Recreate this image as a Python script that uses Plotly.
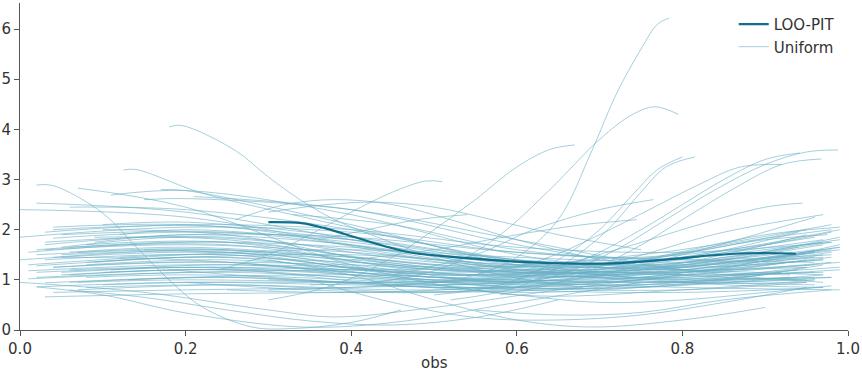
import plotly.graph_objects as go

# ---------------- data ----------------
loo_pit_x = [0.300, 0.340, 0.368, 0.405, 0.445, 0.477, 0.500, 0.535, 0.595,
             0.656, 0.716, 0.777, 0.837, 0.878, 0.918, 0.937]
loo_pit_y = [2.15, 2.13, 2.03, 1.85, 1.65, 1.53, 1.49, 1.44, 1.37,
             1.33, 1.33, 1.40, 1.49, 1.53, 1.53, 1.52]

# full-span uniform KDE lines: knots at start, 0.2, 0.4, 0.6, 0.8, end
band_start = [0.00, 0.00, 0.01, 0.00, 0.01, 0.02, 0.03, 0.02, 0.03, 0.01,
              0.04, 0.02, 0.07, 0.05, 0.06, 0.03, 0.08, 0.04, 0.05, 0.02,
              0.06, 0.09, 0.01, 0.07, 0.03, 0.10, 0.04, 0.12, 0.05, 0.02,
              0.06, 0.08, 0.03, 0.10, 0.04]
band_end = [0.97, 0.98, 0.96, 0.99, 0.98, 0.97, 0.95, 0.99, 0.96, 0.97,
            0.99, 0.95, 0.96, 0.93, 0.97, 0.98, 0.96, 0.97, 0.99, 0.94,
            0.97, 0.98, 0.96, 0.99, 0.94, 0.97, 0.98, 0.96, 0.95, 0.99,
            0.93, 0.97, 0.96, 0.98, 0.95]
band_y = [
    [2.40, 2.25, 1.70, 1.20, 1.10, 1.15],
    [1.85, 2.05, 1.95, 1.55, 1.40, 1.50],
    [1.55, 1.75, 1.65, 1.35, 1.50, 1.85],
    [1.40, 1.55, 1.40, 1.10, 1.05, 1.20],
    [1.18, 1.30, 1.25, 1.05, 1.20, 1.55],
    [1.28, 1.45, 1.50, 1.30, 1.20, 1.10],
    [0.66, 0.72, 0.75, 0.80, 1.00, 1.25],
    [0.86, 0.95, 0.90, 0.85, 1.10, 1.70],
    [0.94, 1.05, 1.10, 1.00, 0.95, 0.90],
    [1.02, 1.15, 1.20, 1.25, 1.45, 1.80],
    [1.83, 1.95, 1.80, 1.40, 1.30, 1.60],
    [2.53, 2.35, 1.80, 1.20, 0.95, 0.95],
    [2.83, 2.45, 1.30, 0.70, 0.80, 1.00],
    [1.65, 1.85, 1.60, 1.15, 1.00, 1.05],
    [1.20, 1.25, 1.10, 0.85, 0.90, 1.30],
    [1.95, 2.10, 2.00, 1.65, 1.55, 1.75],
    [1.35, 1.45, 1.35, 1.15, 1.25, 1.55],
    [0.75, 0.80, 0.85, 0.95, 1.20, 1.40],
    [1.10, 1.20, 1.15, 0.95, 0.85, 0.80],
    [1.50, 1.60, 1.45, 1.20, 1.30, 1.65],
    [2.45, 2.40, 2.00, 1.35, 0.95, 0.85],
    [1.75, 1.90, 1.70, 1.25, 1.15, 1.35],
    [1.30, 1.50, 1.60, 1.45, 1.35, 1.45],
    [0.95, 1.00, 0.95, 0.90, 1.05, 1.25],
    [1.60, 1.70, 1.55, 1.30, 1.45, 1.95],
    [2.10, 2.15, 1.85, 1.40, 1.25, 1.40],
    [1.25, 1.35, 1.30, 1.15, 1.35, 1.75],
    [1.90, 2.00, 1.75, 1.30, 1.10, 1.15],
    [1.45, 1.40, 1.15, 0.85, 0.80, 0.95],
    [1.15, 1.25, 1.20, 1.10, 1.30, 1.85],
    [1.55, 1.65, 1.45, 1.15, 1.15, 1.35],
    [1.05, 1.10, 1.00, 0.80, 0.75, 0.85],
    [1.70, 1.90, 1.85, 1.55, 1.40, 1.35],
    [0.90, 0.95, 0.95, 1.00, 1.25, 1.60],
    [2.05, 2.10, 1.80, 1.35, 1.20, 1.25],
]
band_knots = [0.2, 0.4, 0.6, 0.8]

# second set of full-span lines: knots at start, 0.25, 0.5, 0.75, end
band2_start = [0.05, 0.08, 0.04, 0.10, 0.06, 0.03, 0.07, 0.09, 0.02, 0.05,
               0.12, 0.04, 0.08, 0.06, 0.03, 0.11, 0.07, 0.02, 0.09, 0.05,
               0.13, 0.04, 0.08, 0.06, 0.10]
band2_end = [0.97, 0.98, 0.96, 0.99, 0.95, 0.98, 0.97, 0.96, 0.99, 0.94,
             0.97, 0.98, 0.95, 0.99, 0.97, 0.96, 0.98, 0.95, 0.99, 0.96,
             0.97, 0.98, 0.94, 0.99, 0.97]
band2_y = [
    [1.50, 1.55, 1.05, 1.25, 1.75],
    [1.70, 1.75, 1.15, 1.10, 1.45],
    [1.25, 1.35, 0.95, 1.05, 1.55],
    [2.00, 1.90, 1.20, 1.20, 1.65],
    [1.10, 1.20, 0.85, 1.00, 1.40],
    [1.40, 1.50, 1.10, 1.30, 1.95],
    [0.80, 0.90, 0.80, 1.05, 1.50],
    [1.85, 1.80, 1.25, 1.15, 1.30],
    [1.60, 1.75, 1.30, 1.35, 1.80],
    [1.15, 1.25, 1.00, 0.95, 1.05],
    [1.45, 1.50, 1.10, 1.20, 1.70],
    [2.00, 2.05, 1.40, 1.05, 1.05],
    [1.30, 1.40, 1.15, 1.40, 2.00],
    [0.95, 1.05, 0.90, 1.15, 1.65],
    [1.75, 1.85, 1.35, 1.25, 1.45],
    [1.20, 1.30, 1.05, 0.95, 1.00],
    [1.55, 1.60, 1.05, 0.90, 1.05],
    [1.05, 1.15, 1.00, 1.20, 1.90],
    [1.35, 1.45, 1.00, 1.05, 1.35],
    [1.90, 1.95, 1.50, 1.30, 1.60],
    [1.00, 1.05, 0.85, 0.85, 1.10],
    [1.45, 1.60, 1.25, 1.50, 2.10],
    [0.85, 0.90, 0.75, 0.90, 1.20],
    [1.65, 1.70, 1.20, 1.35, 2.00],
    [1.15, 1.20, 0.95, 1.10, 1.60],
]
band2_knots = [0.25, 0.5, 0.75]

# partial-span uniform KDE lines
part_x = [
    [0.11, 0.2, 0.4, 0.6, 0.8, 0.95],
    [0.15, 0.2, 0.4, 0.6, 0.8, 0.97],
    [0.21, 0.4, 0.6, 0.8, 0.93],
    [0.17, 0.2, 0.4, 0.6, 0.8, 0.96],
    [0.26, 0.32, 0.38, 0.45, 0.52, 0.6, 0.7],
    [0.30, 0.37, 0.43, 0.5, 0.57, 0.65, 0.75],
    [0.36, 0.42, 0.48, 0.54],
    [0.45, 0.55, 0.62, 0.7, 0.765],
    [0.40, 0.5, 0.6, 0.68, 0.745],
    [0.45, 0.6, 0.72, 0.82, 0.9, 0.945],
    [0.25, 0.4, 0.55, 0.7, 0.85, 0.98],
    [0.30, 0.45, 0.6, 0.75, 0.9, 0.99],
    [0.2, 0.35, 0.5, 0.65, 0.8, 0.96],
    [0.28, 0.4, 0.55, 0.7, 0.85, 0.97],
    [0.33, 0.45, 0.6, 0.75, 0.9, 0.975],
    [0.15, 0.3, 0.45, 0.6, 0.75, 0.9],
    [0.18, 0.3, 0.45, 0.6, 0.75, 0.92],
    [0.02, 0.10, 0.20, 0.34, 0.45, 0.6, 0.75],
    [0.00, 0.15, 0.30, 0.38, 0.50, 0.65, 0.80],
    [0.30, 0.40, 0.50, 0.60, 0.69, 0.80, 0.90],
    [0.35, 0.45, 0.55, 0.65, 0.75, 0.85, 0.95],
    [0.06, 0.15, 0.25, 0.35, 0.45, 0.55, 0.65],
    [0.55, 0.65, 0.75, 0.85, 0.98],
    [0.5, 0.6, 0.7, 0.8, 0.9, 0.98],
    [0.30, 0.40, 0.50, 0.55, 0.60, 0.65, 0.69, 0.72, 0.75, 0.77, 0.784],
    [0.35, 0.45, 0.52, 0.58, 0.64, 0.70, 0.74, 0.767, 0.795],
    [0.30, 0.38, 0.45, 0.50, 0.55, 0.60, 0.64, 0.67],
    [0.24, 0.30, 0.35, 0.40, 0.45, 0.49, 0.51],
    [0.18, 0.195, 0.26, 0.30, 0.34, 0.38, 0.44, 0.50, 0.58, 0.68],
    [0.125, 0.14, 0.22, 0.34, 0.44, 0.54, 0.64],
    [0.02, 0.04, 0.10, 0.14, 0.18, 0.22, 0.28, 0.33, 0.40, 0.46],
    [0.50, 0.58, 0.65, 0.70, 0.74, 0.77, 0.80],
    [0.52, 0.60, 0.66, 0.71, 0.75, 0.78, 0.815],
    [0.55, 0.65, 0.72, 0.78, 0.84, 0.90, 0.95, 0.988],
    [0.58, 0.66, 0.74, 0.80, 0.86, 0.92, 0.968],
    [0.60, 0.68, 0.75, 0.80, 0.85, 0.90, 0.942],
    [0.55, 0.63, 0.70, 0.76, 0.82, 0.87, 0.92],
]
part_y = [
    [2.69, 2.78, 2.30, 1.50, 1.10, 1.00],
    [2.60, 2.62, 2.40, 1.80, 1.20, 0.95],
    [2.66, 2.40, 1.70, 1.20, 1.10],
    [2.80, 2.78, 2.10, 1.30, 1.00, 1.05],
    [2.2, 2.5, 2.6, 2.5, 2.2, 1.8, 1.4],
    [2.35, 2.5, 2.55, 2.45, 2.2, 1.9, 1.6],
    [1.8, 2.0, 2.2, 2.3],
    [1.1, 1.5, 2.0, 2.4, 2.6],
    [1.4, 1.6, 1.9, 2.1, 2.2],
    [0.9, 1.1, 1.6, 2.1, 2.45, 2.53],
    [0.8, 0.75, 0.85, 1.20, 1.7, 2.0],
    [1.0, 0.95, 1.05, 1.40, 1.9, 2.05],
    [0.95, 0.80, 0.75, 0.95, 1.5, 2.25],
    [1.3, 1.2, 1.1, 1.3, 1.95, 2.3],
    [2.3, 2.1, 1.6, 1.45, 1.8, 1.9],
    [1.6, 1.5, 1.2, 0.9, 0.9, 1.1],
    [1.2, 1.05, 0.9, 0.75, 0.85, 1.15],
    [0.86, 0.70, 0.34, 0.06, 0.15, 0.55, 0.95],
    [0.95, 0.75, 0.40, 0.26, 0.45, 0.80, 1.1],
    [1.4, 1.1, 0.6, 0.2, 0.06, 0.2, 0.45],
    [1.0, 0.55, 0.25, 0.20, 0.30, 0.55, 0.85],
    [0.80, 0.65, 0.40, 0.18, 0.10, 0.25, 0.6],
    [0.4, 0.3, 0.35, 0.6, 0.8],
    [0.9, 0.7, 0.55, 0.6, 0.75, 0.88],
    [0.80, 0.85, 0.95, 1.10, 1.45, 2.20, 3.55, 4.70, 5.60, 6.10, 6.22],
    [0.9, 1.0, 1.3, 1.9, 2.8, 3.8, 4.3, 4.45, 4.3],
    [0.6, 0.9, 1.45, 2.0, 2.6, 3.25, 3.6, 3.69],
    [1.2, 1.5, 1.9, 2.35, 2.75, 2.97, 2.96],
    [4.05, 4.08, 3.58, 3.05, 2.58, 2.2, 1.8, 1.45, 1.1, 0.85],
    [3.19, 3.2, 2.73, 2.26, 1.9, 1.55, 1.3],
    [2.89, 2.88, 2.33, 1.66, 1.0, 0.46, 0.06, 0.03, 0.15, 0.4],
    [0.7, 0.9, 1.4, 2.0, 2.7, 3.2, 3.45],
    [0.6, 0.85, 1.35, 2.0, 2.75, 3.25, 3.45],
    [0.8, 1.1, 1.6, 2.2, 2.8, 3.3, 3.55, 3.59],
    [0.7, 1.0, 1.6, 2.2, 2.8, 3.3, 3.41],
    [1.0, 1.4, 2.0, 2.5, 3.0, 3.4, 3.53],
    [1.1, 1.4, 1.9, 2.4, 2.9, 3.25, 3.3],
]

x_ticks = [0.0, 0.2, 0.4, 0.6, 0.8, 1.0]
y_ticks = [0, 1, 2, 3, 4, 5, 6]

# ---------------- figure ----------------
DARK = "#0f6f8d"
LIGHT = "rgba(105,175,198,0.6)"
FONT = "DejaVu Sans"
TXT = "#333333"

fig = go.Figure()

unif_lines = []
for xs, xe, ys in zip(band_start, band_end, band_y):
    unif_lines.append(([xs] + band_knots + [xe], ys))
for xs, xe, ys in zip(band2_start, band2_end, band2_y):
    unif_lines.append(([xs] + band2_knots + [xe], ys))
for xs, ys in zip(part_x, part_y):
    unif_lines.append((xs, ys))

for i, (xs, ys) in enumerate(unif_lines):
    fig.add_trace(go.Scatter(
        x=xs, y=ys, mode="lines",
        line=dict(color=LIGHT, width=1, shape="spline", smoothing=1.0),
        name="Uniform", showlegend=(i == 0),
        legendrank=2, hoverinfo="skip"))

fig.add_trace(go.Scatter(
    x=loo_pit_x, y=loo_pit_y, mode="lines",
    line=dict(color=DARK, width=2.2, shape="spline", smoothing=1.0),
    name="LOO-PIT", legendrank=1, hoverinfo="skip"))

axis_common = dict(
    showgrid=False, zeroline=False, showline=True, linecolor="#555555",
    linewidth=1, ticks="outside", ticklen=5, tickcolor="#555555",
    automargin=False,
    tickfont=dict(family=FONT, size=15, color=TXT))

plot_h = 375 - 3 - 45

fig.update_layout(
    width=862, height=375,
    margin=dict(l=20, r=14, t=3, b=45),
    paper_bgcolor="white", plot_bgcolor="white",
    font=dict(family=FONT, size=15, color=TXT),
    hovermode=False,
    xaxis=dict(range=[0, 1], tickvals=x_ticks,
               ticktext=[f"{v:.1f}" for v in x_ticks], **axis_common),
    yaxis=dict(range=[0, 6.52], tickvals=y_ticks,
               ticktext=[str(v) for v in y_ticks], **axis_common),
    legend=dict(x=0.862, y=0.985, xanchor="left", yanchor="top",
                bgcolor="rgba(0,0,0,0)", borderwidth=0, tracegroupgap=0,
                font=dict(family=FONT, size=15, color=TXT)),
    showlegend=True,
    annotations=[dict(text="obs", x=0.5, y=(330 - 363) / plot_h,
                      xref="paper", yref="paper", yanchor="middle",
                      showarrow=False,
                      font=dict(family=FONT, size=15, color=TXT))],
)

fig.write_html(
    "out.html",
    config={"displayModeBar": False},
    post_script="document.body.style.margin='0';document.body.style.padding='0';",
)
